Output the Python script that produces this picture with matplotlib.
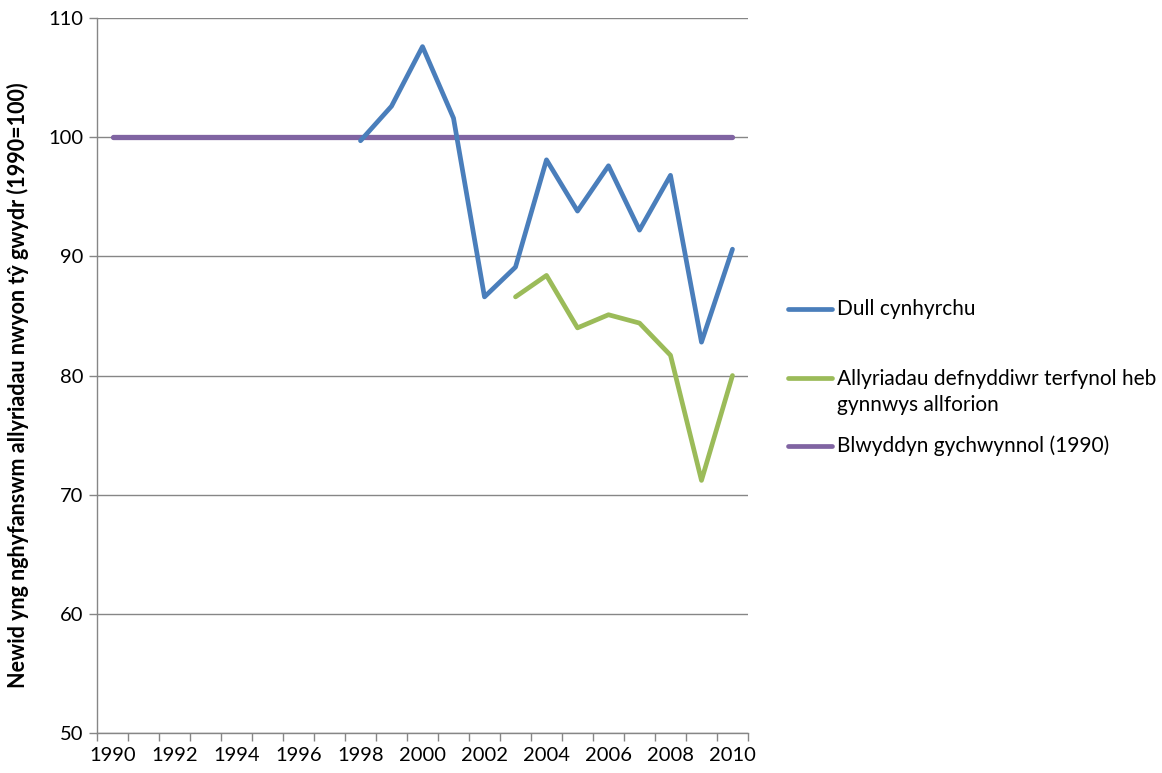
import matplotlib
matplotlib.use("Agg")
import matplotlib.pyplot as plt
from matplotlib.lines import Line2D

plt.rcParams['font.family'] = ['Lato', 'DejaVu Sans']

# data
years = list(range(1990, 2011))
prod_years = list(range(1998, 2011))
prod_vals = [99.7, 102.6, 107.6, 101.6, 86.6, 89.1, 98.1, 93.8, 97.6, 92.2, 96.8, 82.8, 90.6]
cons_years = list(range(2003, 2011))
cons_vals = [86.6, 88.4, 84.0, 85.1, 84.4, 81.7, 71.2, 80.0]
base_vals = [100] * len(years)

labels = ['Dull cynhyrchu',
          'Allyriadau defnyddiwr terfynol heb\ngynnwys allforion',
          'Blwyddyn gychwynnol (1990)']
colors = ['#4A7EBB', '#9BBB59', '#8064A2']
grid_col = '#868686'

fig = plt.figure(figsize=(11.62, 7.73), dpi=100)
ax = fig.add_axes([0.0835, 0.0517, 0.5602, 0.925])

ax.plot(years, base_vals, color=colors[2], lw=3.8, solid_capstyle='round', zorder=3)
ax.plot(prod_years, prod_vals, color=colors[0], lw=3.4, solid_capstyle='round',
        solid_joinstyle='round', zorder=4)
ax.plot(cons_years, cons_vals, color=colors[1], lw=3.4, solid_capstyle='round',
        solid_joinstyle='round', zorder=4)

ax.set_ylim(50, 110)
ax.set_yticks(range(50, 111, 10))
ax.set_xlim(1989.5, 2010.5)
ax.set_xticks(range(1990, 2011, 2))
ax.set_xticks([y - 0.5 for y in years] + [2010.5], minor=True)
ax.tick_params(axis='x', which='major', length=0, pad=10, labelsize=14.5)
ax.tick_params(axis='x', which='minor', length=6, color=grid_col, width=1)
ax.tick_params(axis='y', length=6, color=grid_col, width=1, labelsize=14.5, pad=4)

ax.grid(axis='y', color=grid_col, lw=1)
ax.set_axisbelow(True)
for s in ['top', 'right']:
    ax.spines[s].set_visible(False)
for s in ['left', 'bottom']:
    ax.spines[s].set_color(grid_col)
    ax.spines[s].set_linewidth(1)

ax.set_ylabel('Newid yng nghyfanswm allyriadau nwyon tŷ gwydr (1990=100)',
              fontsize=15.5, fontweight='bold', va='center')
ax.yaxis.set_label_coords(-0.121, 0.487)

# legend drawn to match the spreadsheet layout
key_y = [309, 378, 446]
text_y = [309, 392, 446]
for lab, col, ky, ty in zip(labels, colors, key_y, text_y):
    fig.add_artist(Line2D([788 / 1162, 832 / 1162], [1 - ky / 773, 1 - ky / 773],
                          color=col, lw=3.4, solid_capstyle='round',
                          transform=fig.transFigure))
    fig.text(837 / 1162, 1 - ty / 773, lab, fontsize=15, va='center', ha='left',
             linespacing=1.35)

fig.savefig('out.png', dpi=100)
